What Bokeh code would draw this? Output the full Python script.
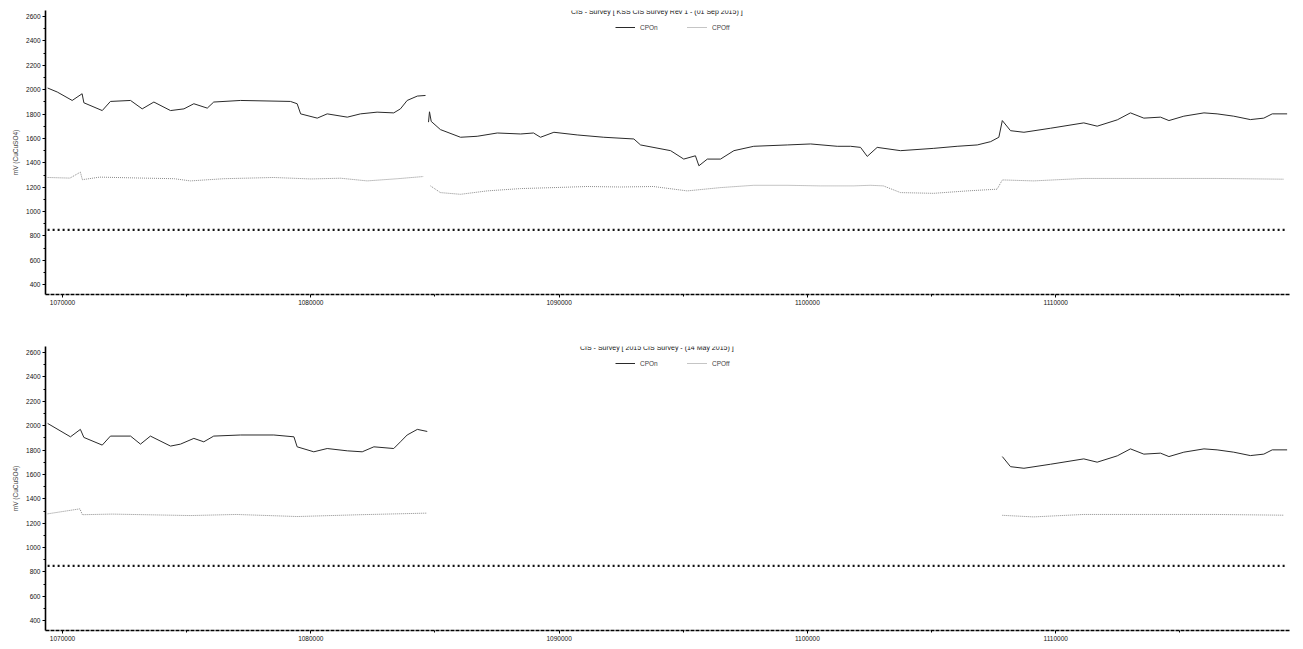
import numpy as np
from bokeh.plotting import figure
from bokeh.layouts import column
from bokeh.models import (ColumnDataSource, FixedTicker, Legend, LegendItem, Label,
                          Range1d, BasicTickFormatter)
from bokeh.embed import file_html
from bokeh.resources import INLINE

nan = float("nan")

# ---------------- data (chainage, mV) ----------------
top_title = "CIS - Survey [ KSS CIS Survey Rev 1 - (01 Sep 2015) ]"
bot_title = "CIS - Survey [ 2015 CIS Survey - (14 May 2015) ]"
y_axis_label = "mV (CuCuSO4)"
legend_labels = ["CPOn", "CPOff"]
x_ticks = [1070000, 1080000, 1090000, 1100000, 1110000]
y_ticks = [400, 600, 800, 1000, 1200, 1400, 1600, 1800, 2000, 2200, 2400, 2600]
criteria_mv = 850
criteria_x = [1069400, 1119320]

top_on_x = [1069400, 1069790, 1070390, 1070790, 1070860, 1071600, 1071930, 1072740, 1073210,
            1073680, 1074350, 1074890, 1075290, 1075830, 1076090, 1077170, 1079180, 1079450,
            1079590, 1080260, 1080660, 1081470, 1082000, 1082670, 1083340, 1083610, 1083880,
            1084290, 1084620, nan,
            1084740, 1084780, 1084850, 1085220, 1086030, 1086700, 1087510, 1088450, 1088970,
            1089250, 1089790, 1090730, 1091800, 1093010, 1093280, 1094490, 1095020, 1095490,
            1095630, 1095970, 1096500, 1097040, 1097840, 1099190, 1100130, 1101200, 1101740,
            1102140, 1102410, 1102810, 1103750, 1105090, 1106030, 1106840, 1107380, 1107710,
            1107850, 1108180, 1108720, 1109790, 1111130, 1111670, 1112480, 1113010, 1113550,
            1114220, 1114560, 1115160, 1115970, 1116500, 1117170, 1117840, 1118380, 1118720,
            1119320]
top_on_y = [2014, 1981, 1912, 1967, 1893, 1829, 1904, 1912, 1843,
            1899, 1829, 1843, 1885, 1849, 1899, 1912, 1904, 1885,
            1802, 1767, 1802, 1775, 1802, 1816, 1810, 1843, 1912,
            1948, 1953, nan,
            1734, 1819, 1740, 1673, 1610, 1618, 1645, 1637, 1645,
            1610, 1651, 1629, 1610, 1596, 1547, 1500, 1431, 1458,
            1376, 1431, 1431, 1500, 1536, 1547, 1555, 1536, 1536,
            1527, 1453, 1527, 1500, 1519, 1536, 1547, 1574, 1610,
            1747, 1664, 1651, 1684, 1728, 1701, 1753, 1810, 1767,
            1775, 1747, 1783, 1810, 1802, 1783, 1755, 1767, 1802,
            1802]

top_off_x = [1069400, 1070300, 1070720, 1070800, 1071500, 1073000, 1074500, 1075150, 1076500,
             1078500, 1080000, 1081200, 1082270, 1083500, 1084540, nan,
             1084820, 1085220, 1086030, 1087100, 1088450, 1089770, 1091130, 1092470, 1093800,
             1095160, 1096500, 1097840, 1099190, 1100520, 1101860, 1102540, 1103060, 1103750,
             1105080, 1106440, 1107640, 1107850, 1109110, 1111120, 1113820, 1116500, 1119170]
top_off_y = [1280, 1275, 1324, 1262, 1283, 1276, 1270, 1252, 1270,
             1280, 1268, 1274, 1252, 1270, 1288, nan,
             1211, 1156, 1142, 1170, 1189, 1197, 1206, 1202, 1206,
             1170, 1197, 1216, 1216, 1211, 1211, 1216, 1211, 1156,
             1150, 1170, 1184, 1260, 1252, 1272, 1272, 1272, 1266]

bot_on_x = [1069400, 1070320, 1070720, 1070860, 1071600, 1071930, 1072740, 1073140, 1073540,
            1074350, 1074750, 1075290, 1075690, 1076090, 1077170, 1078510, 1079320, 1079450,
            1080120, 1080660, 1081470, 1082070, 1082540, 1083340, 1083610, 1083880, 1084290,
            1084690, nan,
            1107850, 1108180, 1108720, 1109790, 1111130, 1111670, 1112480, 1113010, 1113550,
            1114220, 1114560, 1115160, 1115970, 1116500, 1117170, 1117840, 1118380, 1118720,
            1119320]
bot_on_y = [2019, 1909, 1970, 1904, 1841, 1915, 1915, 1849, 1915,
            1833, 1849, 1896, 1868, 1915, 1924, 1924, 1909, 1827,
            1786, 1813, 1794, 1786, 1827, 1813, 1868, 1924, 1970,
            1953, nan,
            1747, 1664, 1651, 1684, 1728, 1701, 1753, 1810, 1767,
            1775, 1747, 1783, 1810, 1802, 1783, 1755, 1767, 1802,
            1802]

bot_off_x = [1069400, 1070700, 1070800, 1072000, 1075150, 1077000, 1079450, 1082000, 1084690, nan,
             1107850, 1109110, 1111120, 1113820, 1116500, 1119170]
bot_off_y = [1277, 1318, 1270, 1275, 1263, 1272, 1255, 1270, 1283, nan,
             1265, 1252, 1272, 1272, 1272, 1266]

X_START, X_END = 1069315, 1119456
Y_START, Y_END = 320, 2650
FONT = "Liberation Sans"


def make_panel(title, on_x, on_y, off_x, off_y, height, border_top, border_bottom, legend_y):
    p = figure(width=1295, height=height, output_backend="svg", toolbar_location=None,
               x_range=Range1d(X_START, X_END), y_range=Range1d(Y_START, Y_END),
               min_border_left=45, min_border_right=5, min_border_top=border_top,
               min_border_bottom=border_bottom, title=None)
    p.outline_line_color = None
    p.xgrid.visible = False
    p.ygrid.visible = False
    p.background_fill_color = "white"
    p.border_fill_color = "white"

    src_on = ColumnDataSource(dict(x=np.array(on_x, dtype=float), y=np.array(on_y, dtype=float)))
    src_off = ColumnDataSource(dict(x=np.array(off_x, dtype=float), y=np.array(off_y, dtype=float)))
    src_cr = ColumnDataSource(dict(x=criteria_x, y=[criteria_mv] * len(criteria_x)))

    p.line("x", "y", source=src_cr, line_color="#111111", line_width=2.2, line_dash="2 3")
    r_off = p.line("x", "y", source=src_off, line_color="#8a8a8a", line_width=1.0, line_dash="1 1")
    r_on = p.line("x", "y", source=src_on, line_color="#2a2a2a", line_width=1.0)

    # axes
    p.yaxis.ticker = FixedTicker(ticks=y_ticks, minor_ticks=list(range(400, 2700, 100)))
    p.xaxis.ticker = FixedTicker(ticks=x_ticks,
                                 minor_ticks=[1075000, 1085000, 1095000, 1105000, 1115000])
    p.xaxis.formatter = BasicTickFormatter(use_scientific=False)
    p.yaxis.axis_label = y_axis_label
    for ax in (p.xaxis[0], p.yaxis[0]):
        ax.axis_line_color = "black"
        ax.axis_line_width = 1.6
        ax.major_tick_line_color = "black"
        ax.minor_tick_line_color = "black"
        ax.major_tick_out = 3
        ax.major_tick_in = 0
        ax.minor_tick_out = 2
        ax.minor_tick_in = 0
        ax.major_label_text_font = FONT
        ax.major_label_text_font_size = "6.5px"
        ax.major_label_text_color = "#111111"
        ax.major_label_standoff = 2
        ax.axis_label_text_font = FONT
        ax.axis_label_text_font_size = "6.5px"
        ax.axis_label_text_font_style = "normal"
        ax.axis_label_standoff = 4
    p.xaxis[0].axis_line_dash = "4 1"

    # title inside the top of the frame
    p.add_layout(Label(x=(X_START + X_END) / 2 - 450, y=2638, text=title,
                       text_font=FONT, text_font_size="7px", text_align="center",
                       text_baseline="middle", text_color="#111111"))

    legend = Legend(items=[LegendItem(label=legend_labels[0], renderers=[r_on]),
                           LegendItem(label=legend_labels[1], renderers=[r_off])],
                    orientation="horizontal", location=(570, legend_y),
                    border_line_color=None, background_fill_alpha=0,
                    label_text_font=FONT, label_text_font_size="6.5px",
                    label_height=8, glyph_height=8, glyph_width=20, label_standoff=5,
                    spacing=27, padding=0, margin=0)
    p.add_layout(legend)
    return p


top = make_panel(top_title, top_on_x, top_on_y, top_off_x, top_off_y,
                 height=312, border_top=10, border_bottom=18, legend_y=263)
bot = make_panel(bot_title, bot_on_x, bot_on_y, bot_off_x, bot_off_y,
                 height=332, border_top=34, border_bottom=14, legend_y=263)

layout = column(top, bot, spacing=0)
open("out.html", "w").write(file_html(layout, INLINE))
